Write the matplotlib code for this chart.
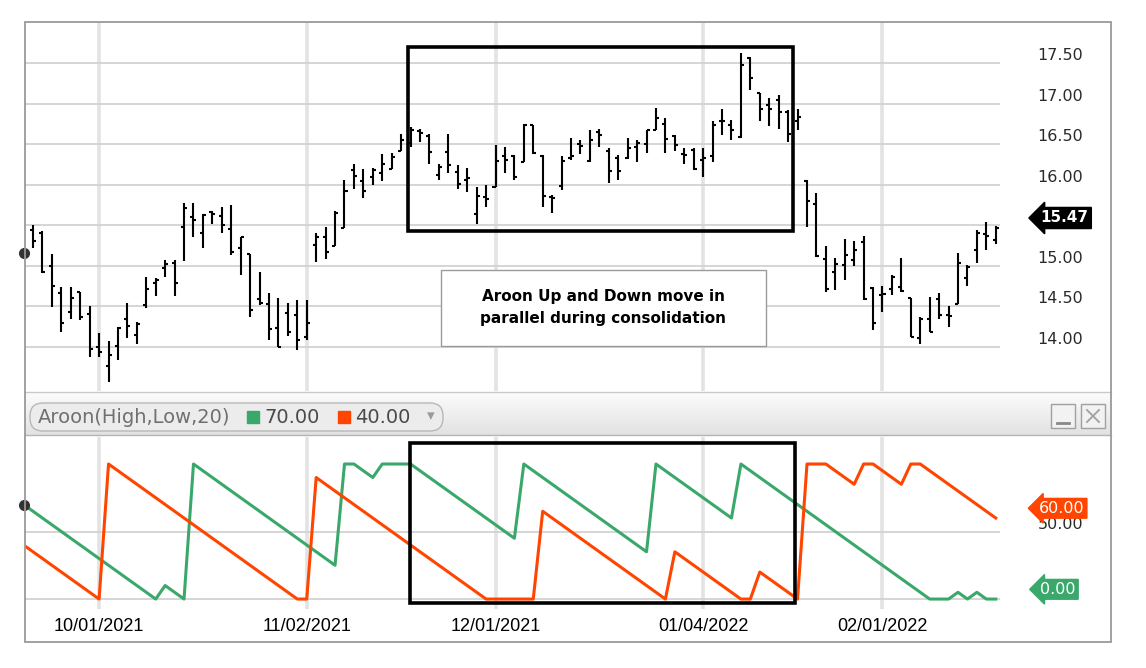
import matplotlib.pyplot as plt
import matplotlib.patches as patches
import matplotlib.transforms as mtransforms
from matplotlib.colors import LinearSegmentedColormap
import numpy as np

# daily OHLC bars (trading-day index 0..102)
opens = [15.44, 15.41, 15.00, 14.66, 14.43, 14.68, 14.41, 14.00, 13.77, 14.01,
         14.35, 14.15, 14.52, 14.79, 14.97, 15.04, 15.48, 15.60, 15.41, 15.66,
         15.61, 15.46, 15.22, 15.15, 14.59, 14.53, 14.23, 14.42, 14.39, 14.12,
         15.26, 15.36, 15.24, 15.47, 16.18, 16.04, 16.09, 16.14, 16.19, 16.41,
         16.52, 16.66, 16.60, 16.12, 16.40, 16.16, 16.06, 15.64, 15.85, 15.97,
         16.35, 16.35, 16.28, 16.73, 16.35, 15.85, 15.99, 16.33, 16.50, 16.29,
         16.65, 16.42, 16.33, 16.33, 16.47, 16.50, 16.68, 16.75, 16.60, 16.38,
         16.43, 16.30, 16.35, 16.78, 16.73, 16.59, 17.56, 17.13, 16.98, 17.05,
         16.90, 16.79, 16.05, 15.76, 15.08, 14.93, 15.01, 15.07, 15.30, 14.73,
         14.64, 14.71, 14.74, 14.60, 14.11, 14.35, 14.59, 14.40, 14.53, 14.85,
         15.19, 15.39, 15.32]
highs = [15.50, 15.43, 15.15, 14.74, 14.74, 14.68, 14.50, 14.17, 14.08, 14.25,
         14.54, 14.31, 14.86, 14.85, 15.07, 15.07, 15.77, 15.77, 15.64, 15.68,
         15.73, 15.75, 15.36, 15.15, 14.93, 14.66, 14.61, 14.54, 14.58, 14.58,
         15.40, 15.48, 15.68, 16.06, 16.26, 16.19, 16.20, 16.38, 16.39, 16.62,
         16.71, 16.69, 16.62, 16.26, 16.62, 16.24, 16.20, 15.97, 16.00, 16.49,
         16.46, 16.36, 16.75, 16.73, 16.36, 15.87, 16.35, 16.57, 16.55, 16.68,
         16.69, 16.45, 16.36, 16.57, 16.55, 16.68, 16.95, 16.82, 16.61, 16.45,
         16.45, 16.45, 16.78, 16.93, 16.80, 17.62, 17.57, 17.13, 17.07, 17.10,
         16.92, 16.93, 16.06, 15.90, 15.24, 15.10, 15.33, 15.31, 15.37, 14.74,
         14.75, 14.89, 15.10, 14.60, 14.37, 14.62, 14.66, 14.50, 15.16, 15.01,
         15.44, 15.54, 15.49]
lows = [15.22, 14.91, 14.49, 14.19, 14.35, 14.33, 13.88, 13.88, 13.57, 13.84,
        14.11, 14.04, 14.48, 14.63, 14.86, 14.63, 15.06, 15.35, 15.22, 15.52,
        15.40, 15.13, 14.89, 14.37, 14.52, 14.09, 14.00, 14.13, 13.96, 14.09,
        15.05, 15.09, 15.24, 15.47, 15.95, 15.84, 16.00, 16.04, 16.19, 16.41,
        16.47, 16.53, 16.26, 16.06, 16.15, 15.95, 15.91, 15.52, 15.73, 15.97,
        16.15, 16.06, 16.28, 16.38, 15.73, 15.65, 15.94, 16.31, 16.38, 16.28,
        16.46, 16.02, 16.06, 16.32, 16.28, 16.39, 16.67, 16.39, 16.41, 16.26,
        16.18, 16.10, 16.28, 16.61, 16.55, 16.58, 17.17, 16.78, 16.72, 16.69,
        16.53, 16.67, 15.48, 15.11, 14.68, 14.70, 14.82, 15.00, 14.58, 14.21,
        14.43, 14.64, 14.68, 14.12, 14.04, 14.18, 14.34, 14.25, 14.53, 14.75,
        15.03, 15.20, 15.27]
closes = [15.31, 14.92, 14.75, 14.30, 14.61, 14.37, 13.97, 13.94, 13.90, 14.23,
          14.26, 14.28, 14.72, 14.83, 15.02, 14.79, 15.71, 15.57, 15.63, 15.64,
          15.50, 15.17, 15.35, 14.46, 14.54, 14.22, 14.00, 14.19, 14.09, 14.30,
          15.36, 15.17, 15.65, 15.92, 16.11, 15.92, 16.18, 16.26, 16.34, 16.55,
          16.67, 16.64, 16.40, 16.22, 16.24, 16.01, 16.08, 15.86, 15.83, 16.29,
          16.31, 16.10, 16.73, 16.39, 15.86, 15.84, 16.29, 16.35, 16.48, 16.55,
          16.61, 16.17, 16.17, 16.45, 16.51, 16.67, 16.82, 16.56, 16.49, 16.36,
          16.19, 16.33, 16.73, 16.79, 16.68, 17.48, 17.31, 16.93, 16.93, 16.89,
          16.62, 16.83, 15.80, 15.12, 14.72, 15.02, 15.13, 15.19, 14.59, 14.30,
          14.65, 14.86, 14.69, 14.12, 14.34, 14.19, 14.39, 14.38, 15.04, 14.99,
          15.41, 15.37, 15.47]

# Aroon(High,Low,20), from index -1 (cursor bar just off the left edge) to 102
aroon_up = [70,
            65, 60, 55, 50, 45, 40, 35, 30, 25, 20, 15, 10, 5, 0,
            10, 5, 0,
            100, 95, 90, 85, 80, 75, 70, 65, 60, 55, 50, 45, 40, 35, 30, 25,
            100, 100, 95, 90,
            100, 100, 100, 100,
            95, 90, 85, 80, 75, 70, 65, 60, 55, 50, 45,
            100, 95, 90, 85, 80, 75, 70, 65, 60, 55, 50, 45, 40, 35,
            100, 95, 90, 85, 80, 75, 70, 65, 60,
            100, 95, 90, 85, 80, 75, 70, 65, 60, 55, 50, 45, 40, 35, 30, 25, 20,
            15, 10, 5, 0,
            0, 0, 5, 0, 5, 0, 0]
aroon_down = [40,
              35, 30, 25, 20, 15, 10, 5, 0,
              100, 95, 90, 85, 80, 75, 70, 65, 60, 55, 50, 45, 40, 35, 30, 25,
              20, 15, 10, 5, 0,
              0,
              90, 85, 80, 75, 70, 65, 60, 55, 50, 45, 40, 35, 30, 25, 20, 15,
              10, 5, 0,
              0, 0, 0, 0, 0,
              65, 60, 55, 50, 45, 40, 35, 30, 25, 20, 15, 10, 5, 0,
              35, 30, 25, 20, 15, 10, 5, 0,
              0,
              20, 15, 10, 5, 0,
              100, 100, 100, 95, 90, 85, 100, 100, 95, 90, 85, 100, 100,
              95, 90, 85, 80, 75, 70, 65, 60]

date_ticks = [7, 29, 49, 71, 90]
date_labels = ['10/01/2021', '11/02/2021', '12/01/2021', '01/04/2022', '02/01/2022']
price_ticks = [14.0, 14.5, 15.0, 15.5, 16.0, 16.5, 17.0, 17.5]
last_price = 15.47
cursor_price = 15.16
cursor_up, cursor_down = 70.00, 40.00

GREEN = '#3aa86b'
RED = '#ff4500'
W, H = 1146, 668


def px_rect(x0, y0, x1, y1):
    return [x0 / W, 1 - y1 / H, (x1 - x0) / W, (y1 - y0) / H]


fig = plt.figure(figsize=(W / 100, H / 100), dpi=100)
fig.patch.set_facecolor('white')

# background chrome in pixel coordinates
back = fig.add_axes([0, 0, 1, 1], zorder=-1)
grad = np.linspace(0, 1, 50)[:, None]
cmap = LinearSegmentedColormap.from_list('hdr', ['#fcfcfc', '#e2e2e2'])
back.imshow(grad, extent=[25, 1111, 435, 392], aspect='auto', cmap=cmap)
back.set_xlim(0, W)
back.set_ylim(H, 0)
back.axis('off')
back.plot([25, 1111], [392, 392], color='#c8c8c8', lw=1)
back.plot([25, 1111], [435, 435], color='#b4b4b4', lw=1)
back.add_patch(patches.FancyBboxPatch((30, 403), 413, 28,
                                      boxstyle='round,pad=0,rounding_size=13',
                                      fc='#ececec', ec='#b8b8b8', lw=1))
back.text(38, 417.5, 'Aroon(High,Low,20)', fontsize=14, color='#707070',
          va='center', ha='left')
back.add_patch(patches.Rectangle((247, 411), 12, 12, color=GREEN))
back.text(264, 417.5, f'{cursor_up:.2f}', fontsize=14, color='#4a4a4a',
          va='center', ha='left')
back.add_patch(patches.Rectangle((338, 411), 12, 12, color=RED))
back.text(355, 417.5, f'{cursor_down:.2f}', fontsize=14, color='#4a4a4a',
          va='center', ha='left')
back.text(431, 416, '\u25be', fontsize=11, color='#9a9a9a', va='center', ha='center')
for bx in (1051, 1081):
    back.add_patch(patches.Rectangle((bx, 404), 24, 24, fc='#f2f2f2', ec='#a0a0a0', lw=1))
back.plot([1057, 1069], [422.5, 422.5], color='#888888', lw=2)
back.plot([1087, 1099], [410, 422], color='#a0a0a0', lw=1.3)
back.plot([1099, 1087], [410, 422], color='#a0a0a0', lw=1.3)

# price panel
ax1 = fig.add_axes(px_rect(25, 22, 1000, 391))
idx = np.arange(len(closes))
ax1.vlines(idx, lows, highs, color='black', lw=1.5, zorder=3)
ax1.hlines(opens, idx - 0.32, idx, color='black', lw=1.5, zorder=3)
ax1.hlines(closes, idx, idx + 0.32, color='black', lw=1.5, zorder=3)
ax1.plot([-1], [cursor_price], 'o', color='#333333', ms=7, clip_on=False, zorder=4)
ax1.set_xlim(-0.85, 102.45)
ax1.set_ylim(13.458, 18.005)

# Aroon panel
ax2 = fig.add_axes(px_rect(25, 437, 1000, 608.5))
xa = np.arange(-1, len(closes))
ax2.plot(xa, aroon_up, color=GREEN, lw=2.2, zorder=3)
ax2.plot(xa, aroon_down, color=RED, lw=2.2, zorder=3)
ax2.plot([-1], [aroon_up[0]], 'o', color='#333333', ms=7, clip_on=False, zorder=4)
ax2.set_xlim(-0.85, 102.45)
ax2.set_ylim(-7, 120)

for ax in (ax1, ax2):
    for s in ax.spines.values():
        s.set_visible(False)
    ax.set_xticks(date_ticks)
    ax.grid(axis='x', color='#e3e3e3', lw=2.6, zorder=0)
    ax.grid(axis='y', color='#d2d2d2', lw=1.3, zorder=0)
    ax.yaxis.tick_right()
    ax.tick_params(length=0)

ax1.set_xticklabels([])
ax1.set_yticks(price_ticks)
# the 15.50 label sits under the last-price tag, so it is left blank
ax1.set_yticklabels(['' if abs(p - 15.5) < 1e-9 else f'{p:.2f}' for p in price_ticks])
ax2.set_xticklabels(date_labels, fontfamily='Liberation Sans', fontsize=13)
ax2.tick_params(axis='x', pad=7)
ax2.set_yticks([0, 50])
ax2.set_yticklabels(['', '50.00'])
for ax in (ax1, ax2):
    ax.tick_params(axis='y', pad=27, labelsize=11.5, labelcolor='#2a2a2a')
    for lbl in ax.get_yticklabels():
        lbl.set_va('bottom')

# highlight boxes around the consolidation
ax1.add_patch(patches.Rectangle((39.75, 15.43), 40.8, 2.27, fill=False,
                                ec='black', lw=2.6, zorder=5, clip_on=False))
ax2.add_patch(patches.Rectangle((39.95, -3), 40.75, 118.5, fill=False,
                                ec='black', lw=2.6, zorder=5, clip_on=False))

# note box
ax1.add_patch(patches.Rectangle((0.4267, 0.122), 0.3333, 0.206, transform=ax1.transAxes,
                                fc='white', ec='#9a9a9a', lw=1, zorder=6))
ax1.text(0.5933, 0.227, 'Aroon Up and Down move in\nparallel during consolidation',
         transform=ax1.transAxes, ha='center', va='center', fontsize=11,
         fontweight='bold', linespacing=1.55, zorder=7)

# value tags on the right
t1 = mtransforms.blended_transform_factory(ax1.transAxes, ax1.transData)
ax1.annotate(f'{last_price:.2f}', xy=(1, last_price), xycoords=t1, xytext=(29, 7),
             textcoords='offset points', ha='left', va='center', color='white',
             fontsize=11, fontweight='bold', annotation_clip=False,
             bbox=dict(boxstyle='larrow,pad=0.2', fc='black', ec='black'))
t2 = mtransforms.blended_transform_factory(ax2.transAxes, ax2.transData)
ax2.annotate(f'{aroon_down[-1]:.2f}', xy=(1, aroon_down[-1]), xycoords=t2, xytext=(28, 7),
             textcoords='offset points', ha='left', va='center', color='white',
             fontsize=11.5, annotation_clip=False,
             bbox=dict(boxstyle='larrow,pad=0.15', fc=RED, ec=RED))
ax2.annotate(f'{aroon_up[-1]:.2f}', xy=(1, aroon_up[-1]), xycoords=t2, xytext=(29, 7),
             textcoords='offset points', ha='left', va='center', color='white',
             fontsize=11.5, annotation_clip=False,
             bbox=dict(boxstyle='larrow,pad=0.15', fc=GREEN, ec=GREEN))

# outer frame
front = fig.add_axes([0, 0, 1, 1], zorder=10)
front.set_xlim(0, W)
front.set_ylim(H, 0)
front.axis('off')
front.patch.set_alpha(0)
front.add_patch(patches.Rectangle((25, 22), 1086, 620, fill=False, ec='#9a9a9a', lw=1.3))

fig.savefig('out.png', dpi=100, facecolor='white')
